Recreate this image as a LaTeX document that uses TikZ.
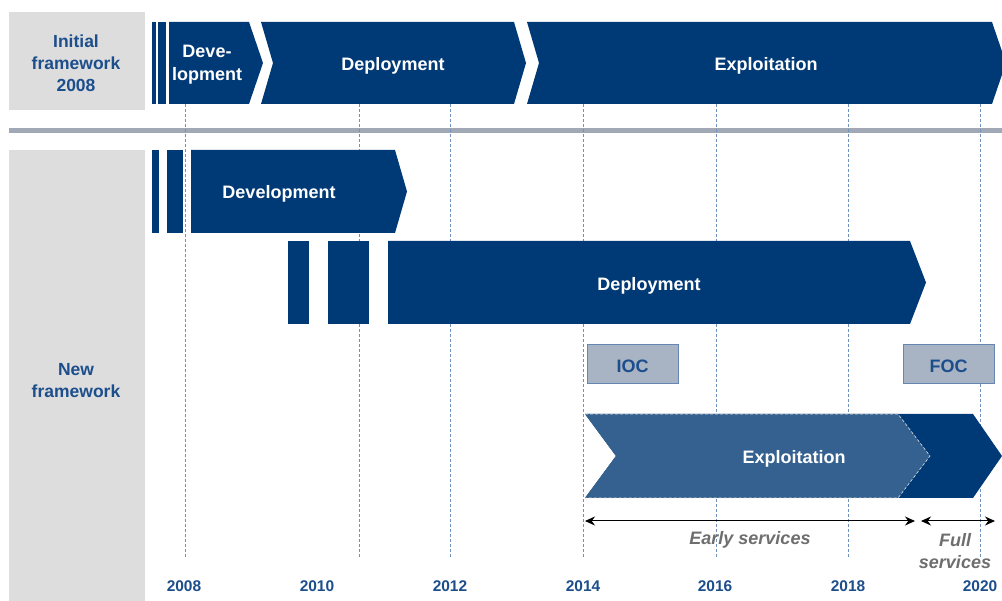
\documentclass[tikz,border=0pt]{standalone}
\usepackage{fontspec}
\setmainfont{Liberation Sans}
\usetikzlibrary{arrows.meta}
\definecolor{dkblue}{RGB}{0,58,118}
\definecolor{ltblue}{RGB}{52,97,143}
\definecolor{boxgray}{RGB}{221,221,221}
\definecolor{sepgray}{RGB}{162,169,182}
\definecolor{lblblue}{RGB}{28,78,140}
\definecolor{gridblue}{RGB}{110,145,190}
\definecolor{capfill}{RGB}{168,179,195}
\definecolor{capedge}{RGB}{100,135,180}
\definecolor{txtgray}{RGB}{110,110,110}
\tikzset{
  phase/.style={fill=dkblue},
  phasetext/.style={text=white,font=\fontsize{18}{23}\selectfont\bfseries,align=center,inner sep=0pt},
  sidetext/.style={text=lblblue,font=\fontsize{17.5}{22}\selectfont\bfseries,align=center,inner sep=0pt},
  yeartext/.style={text=lblblue,font=\fontsize{15.5}{18}\selectfont\bfseries,inner sep=0pt},
  gridline/.style={draw=gridblue,line width=1pt,dash pattern=on 3pt off 2pt},
  capbox/.style={fill=capfill,draw=capedge,line width=1pt},
  captext/.style={text=lblblue,font=\fontsize{18}{21}\selectfont\bfseries,inner sep=0pt},
  svctext/.style={text=txtgray,font=\fontsize{18}{22}\selectfont\bfseries\itshape,align=center,inner sep=0pt},
  span/.style={draw=black,line width=1pt,{Stealth[length=10pt,width=9pt]}-{Stealth[length=10pt,width=9pt]}}
}
\begin{document}
\begin{tikzpicture}[x=1pt,y=-1pt]
\useasboundingbox (0,0) rectangle (1002,601);
% side boxes
\fill[boxgray] (9,12) rectangle (145,110);
\fill[boxgray] (9,150) rectangle (145,601);
\node[sidetext] (initlbl) at (76,63) {Initial\\framework\\2008};
\node[sidetext] (newlbl) at (76,381) {New\\framework};
% separator
\fill[sepgray] (9,128) rectangle (1002,133);
% grid lines
\foreach \gx in {185,359,450,583,716,848,980}{
  \draw[gridline] (\gx,104) -- (\gx,557);
}
% top row
\fill[phase] (152,22) rectangle (156,104);
\fill[phase] (158,22) rectangle (166,104);
\fill[phase] (169,22) -- (249,22) -- (263,63) -- (249,104) -- (169,104) -- cycle;
\fill[phase] (261,22) -- (514,22) -- (526,63) -- (514,104) -- (261,104) -- (273,63) -- cycle;
\fill[phase] (527,22) -- (992,22) -- (1006,63) -- (992,104) -- (527,104) -- (539,63) -- cycle;
\node[phasetext] (tdev) at (207,65) {Deve-\\lopment};
\node[phasetext] (tdep) at (393,66) {Deployment};
\node[phasetext] (texp) at (766,66) {Exploitation};
% new: development
\fill[phase] (152,150) rectangle (159,233);
\fill[phase] (167,150) rectangle (183,233);
\fill[phase] (191,150) -- (395,150) -- (407,191.5) -- (395,233) -- (191,233) -- cycle;
\node[phasetext] (ndev) at (279,194) {Development};
% new: deployment
\fill[phase] (288,241) rectangle (309,324);
\fill[phase] (328,241) rectangle (369,324);
\fill[phase] (388,241) -- (910,241) -- (926,282.5) -- (910,324) -- (388,324) -- cycle;
\node[phasetext] (ndep) at (649,286) {Deployment};
% IOC / FOC
\draw[capbox] (587,345) rectangle (678,384);
\node[captext] (ioc) at (632.5,366) {IOC};
\draw[capbox] (903,345) rectangle (994,384);
\node[captext] (foc) at (948.5,366) {FOC};
% new: exploitation
\fill[phase] (585,414) -- (973,414) -- (1002,456) -- (973,498) -- (585,498) -- (616,456) -- cycle;
\fill[ltblue] (585,414) -- (898,414) -- (930,456) -- (898,498) -- (585,498) -- (616,456) -- cycle;
\draw[draw=white!80!gray,line width=0.6pt,dash pattern=on 3pt off 2pt] (585,414) -- (898,414) -- (930,456) -- (898,498) -- (585,498);
\node[phasetext] (nexp) at (794,459) {Exploitation};
% services spans
\coordinate (es1) at (585,521);
\coordinate (es2) at (915,521);
\coordinate (fs1) at (921,521);
\coordinate (fs2) at (995,521);
\draw[span] (es1) -- (es2);
\draw[span] (fs1) -- (fs2);
\node[svctext] (early) at (750,540) {Early services};
\node[svctext] (full) at (955,551) {Full\\services};
% years
\node[yeartext] (y08) at (184,586) {2008};
\node[yeartext] (y10) at (317,586) {2010};
\node[yeartext] (y12) at (450,586) {2012};
\node[yeartext] (y14) at (583,586) {2014};
\node[yeartext] (y16) at (715,586) {2016};
\node[yeartext] (y18) at (848,586) {2018};
\node[yeartext] (y20) at (980,586) {2020};
\end{tikzpicture}
\end{document}
